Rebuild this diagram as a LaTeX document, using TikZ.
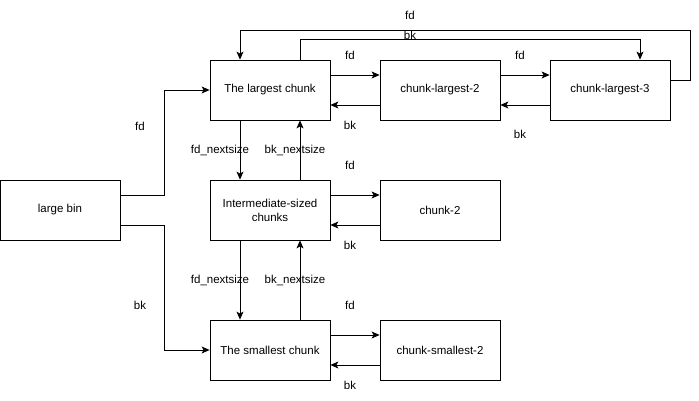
\documentclass[tikz,border=0pt]{standalone}
\usepackage{fontspec}
\setmainfont{Liberation Sans}
\usetikzlibrary{calc,arrows.meta}
\tikzset{
  chunk/.style={draw, line width=0.8pt, minimum width=120pt, minimum height=60pt, inner sep=0pt, align=center, font=\fontsize{11.5}{14}\selectfont},
  arr/.style={line width=0.8pt, -{Stealth[length=8pt,width=7pt,inset=2pt]}},
  lbl/.style={font=\fontsize{11.5}{14}\selectfont, inner sep=0pt}
}
\begin{document}
\begin{tikzpicture}[x=1pt,y=-1pt]
\useasboundingbox (0,0) rectangle (699,401);

% boxes
\node[chunk] (bin) at (60,210) {large bin};
\node[chunk] (largest) at (270,90) {The largest chunk};
\node[chunk] (cl2) at (440,90) {chunk-largest-2};
\node[chunk] (cl3) at (610,90) {chunk-largest-3};
\node[chunk] (inter) at (270,210) {Intermediate-sized\\chunks};
\node[chunk] (c2) at (440,210) {chunk-2};
\node[chunk] (smallest) at (270,350) {The smallest chunk};
\node[chunk] (cs2) at (440,350) {chunk-smallest-2};

% large bin to both ends
\draw[arr] ($(bin.east)+(0,-15)$) -| ($(largest.west)+(-45,0)$) -- (largest.west);
\draw[arr] ($(bin.east)+(0,15)$) -| ($(smallest.west)+(-45,0)$) -- (smallest.west);
\node[lbl] (binfd) at (140,126) {fd};
\node[lbl] (binbk) at (140,305) {bk};

% fd / bk pairs
\foreach \a/\b/\f/\k in {largest/cl2/20/20, cl2/cl3/20/29, inter/c2/30/20, smallest/cs2/30/20}{
  \draw[arr] ($(\a.east)+(0,-15)$) -- ($(\b.west)+(0,-15)$) node[lbl, midway, yshift=\f pt, xshift=-5pt] {fd};
  \draw[arr] ($(\b.west)+(0,15)$) -- ($(\a.east)+(0,15)$) node[lbl, midway, yshift=-\k pt, xshift=-5pt] {bk};
}

% nextsize links
\foreach \a/\b in {largest/inter, inter/smallest}{
  \draw[arr] ($(\a.south)+(-30,0)$) -- ($(\b.north)+(-30,0)$) node[lbl, midway, xshift=-20pt] {fd\_nextsize};
  \draw[arr] ($(\b.north)+(30,0)$) -- ($(\a.south)+(30,0)$) node[lbl, midway, xshift=-5pt] {bk\_nextsize};
}

% wrap around
\draw[arr] ($(cl3.east)+(0,-10)$) -| ($(cl3.east)+(20,-60)$) -| ($(largest.north)+(-30,0)$);
\draw[arr] ($(largest.north)+(30,0)$) |- ($(cl3.north)+(30,-20)$) -- ($(cl3.north)+(30,0)$);
\node[lbl] (topfd) at (410,15) {fd};
\node[lbl] (topbk) at (410,35) {bk};
\end{tikzpicture}
\end{document}
